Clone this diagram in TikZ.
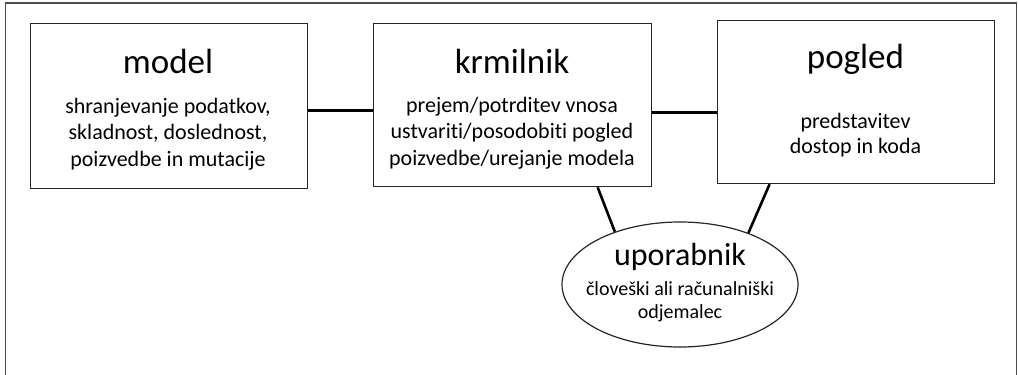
\documentclass[tikz,border=0pt]{standalone}
\usepackage{fontspec}
\setmainfont{Carlito}[Ligatures=NoCommon]
\usetikzlibrary{shapes.geometric}
\tikzset{
  box/.style={draw=black!85, line width=1.2pt, inner sep=0pt, anchor=north west},
  title/.style={anchor=base, inner sep=0pt, font=\fontsize{35}{40}\selectfont},
  body/.style={anchor=base, inner sep=0pt, font=\fontsize{22}{26}\selectfont},
  etitle/.style={anchor=base, inner sep=0pt, font=\fontsize{32}{36}\selectfont},
  ebody/.style={anchor=base, inner sep=0pt, font=\fontsize{20}{24}\selectfont},
  link/.style={draw=black, line width=2.6pt},
}
\begin{document}
\begin{tikzpicture}[x=1pt, y=-1pt]
\useasboundingbox (0,0) rectangle (1018,375);
% outer frame (bottom edge runs off the page)
\draw[draw=black!70, line width=1.5pt] (5.5,3) rectangle (1016.5,400);

% boxes
\node[box, minimum width=277.5pt, minimum height=165pt] (model) at (29.5,23) {};
\node[box, minimum width=278pt, minimum height=163pt] (krm) at (373,23) {};
\node[box, minimum width=277pt, minimum height=163pt] (pogled) at (717,20) {};
\node[draw=black!85, line width=1.2pt, ellipse, inner sep=0pt,
      minimum width=236pt, minimum height=125pt] (upo) at (680,284.5) {};

% texts of "model"
\node[title] (model-t) at (168,73) {model};
\node[body] (model-1) at (168,113) {shranjevanje podatkov,};
\node[body] (model-2) at (168,139.5) {skladnost, doslednost,};
\node[body] (model-3) at (168,166) {poizvedbe in mutacije};

% texts of "krmilnik"
\node[title] (krm-t) at (512,73) {krmilnik};
\node[body] (krm-1) at (512,112) {prejem/potrditev vnosa};
\node[body] (krm-2) at (512,138.5) {ustvariti/posodobiti pogled};
\node[body] (krm-3) at (512,165) {poizvedbe/urejanje modela};

% texts of "pogled"
\node[title] (pogled-t) at (855.5,68) {pogled};
\node[body] (pogled-1) at (855.5,128) {predstavitev};
\node[body] (pogled-2) at (855.5,153) {dostop in koda};

% texts of "uporabnik"
\node[etitle] (upo-t) at (680,265) {uporabnik};
\node[ebody] (upo-1) at (680,295) {človeški ali računalniški};
\node[ebody] (upo-2) at (680,318) {odjemalec};

% connectors
\draw[link] ([yshift=-4.5pt]model.east) -- ([yshift=-5.5pt]krm.west);
\draw[link] ([yshift=-7.5pt]krm.east) -- ([yshift=-10.5pt]pogled.west);
\draw[link] ([xshift=85pt]krm.south) -- (upo.141.5);
\draw[link] ([xshift=-86.5pt]pogled.south) -- (upo.37.5);
\end{tikzpicture}
\end{document}
